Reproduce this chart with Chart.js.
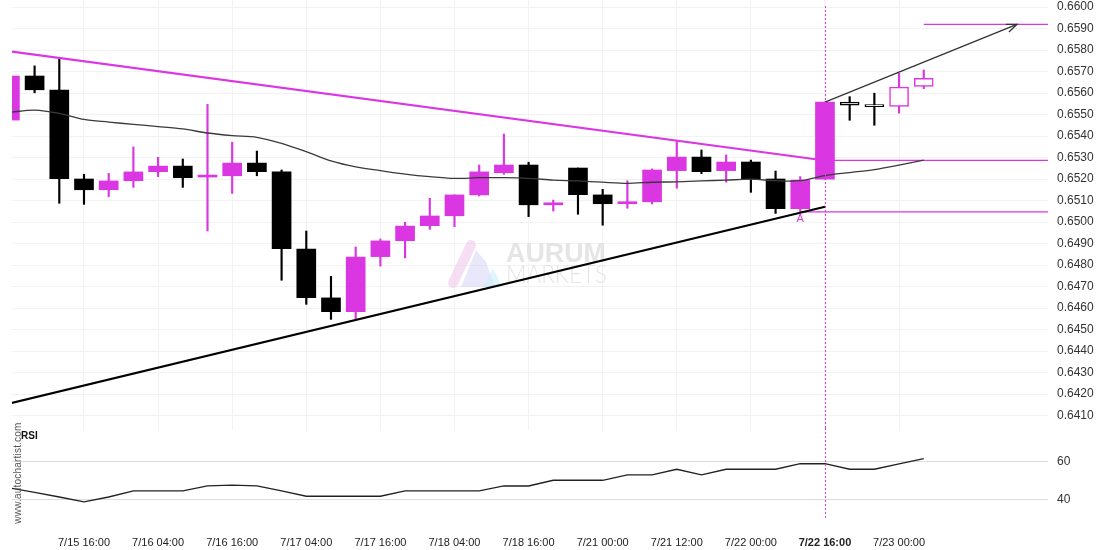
<!DOCTYPE html>
<html>
<head>
<meta charset="utf-8">
<script src="https://cdn.jsdelivr.net/npm/chart.js@4.4.0/dist/chart.umd.min.js"></script>
<style>
body { margin:0; background:#fff; width:1110px; height:550px; overflow:hidden; position:relative; font-family:"Liberation Sans", Arial, sans-serif; }
#main { position:absolute; left:0; top:0; }
#rsi { position:absolute; left:0; top:428px; }
#site { position:absolute; left:-37px; top:467px; width:110px; height:12px; line-height:12px; font-size:10px; letter-spacing:0.2px; color:#555; text-align:center; transform:rotate(-90deg); }
#rsiLabel { position:absolute; left:21px; top:430px; font-size:10px; font-weight:bold; color:#111; }
</style>
</head>
<body>
<canvas id="main" width="1110" height="430"></canvas>
<canvas id="rsi" width="1110" height="122"></canvas>
<div id="site">www.autochartist.com</div>
<div id="rsiLabel">RSI</div>
<script>
// H4 candles, index 0 = first (clipped) candle on the left
const opens  = [0.65474,0.65679,0.65614,0.65200,0.65150,0.65192,0.65234,0.65260,0.65209,0.65215,0.65274,0.65233,0.64874,0.64647,0.64583,0.64839,0.64913,0.64983,0.65029,0.65126,0.65229,0.65265,0.65080,0.65251,0.65126,0.65085,0.65094,0.65239,0.65302,0.65239,0.65279,0.65200,0.65062,0.65199,0.65558,0.65540,0.65538,0.65631]
const highs  = [0.65679,0.65726,0.65758,0.65222,0.65226,0.65349,0.65301,0.65293,0.65547,0.65371,0.65330,0.65242,0.64958,0.64747,0.64884,0.64921,0.64999,0.65110,0.65126,0.65265,0.65409,0.65278,0.65102,0.65251,0.65152,0.65192,0.65247,0.65377,0.65335,0.65312,0.65288,0.65237,0.65211,0.65558,0.65583,0.65599,0.65692,0.65707]
const lows   = [0.65474,0.65601,0.65087,0.65082,0.65118,0.65161,0.65211,0.65161,0.64958,0.65133,0.65215,0.64729,0.64617,0.64547,0.64549,0.64795,0.64833,0.64966,0.64978,0.65121,0.65222,0.65025,0.65051,0.65036,0.64985,0.65064,0.65084,0.65157,0.65225,0.65185,0.65138,0.65040,0.65047,0.65199,0.65473,0.65450,0.65506,0.65620]
const closes = [0.65679,0.65615,0.65201,0.65150,0.65191,0.65233,0.65260,0.65206,0.65215,0.65274,0.65234,0.64876,0.64648,0.64583,0.64837,0.64912,0.64981,0.65028,0.65126,0.65233,0.65265,0.65080,0.65083,0.65127,0.65085,0.65094,0.65242,0.65302,0.65234,0.65279,0.65199,0.65062,0.65195,0.65558,0.65543,0.65537,0.65627,0.65668]
const maValues = [0.65510,0.65520,0.65505,0.65477,0.65465,0.65454,0.65444,0.65433,0.65414,0.65402,0.65394,0.65366,0.65327,0.65284,0.65256,0.65239,0.65223,0.65211,0.65203,0.65206,0.65206,0.65203,0.65195,0.65191,0.65185,0.65180,0.65185,0.65187,0.65191,0.65195,0.65199,0.65192,0.65192,0.65216,0.65230,0.65244,0.65265,0.65288]
const rsiValues = [45.9,43.6,41.2,38.6,41.2,44.4,44.4,44.4,47.0,47.4,47.0,44.4,41.6,41.6,41.6,41.6,44.4,44.4,44.4,44.4,47.0,47.0,50.0,50.0,50.0,52.8,52.8,55.8,52.8,55.8,55.8,55.8,58.7,58.7,55.8,55.8,58.6,61.4]

const tickIdx = [3,6,9,12,15,18,21,24,27,30,33,36]
const tickLabels = ['7/15 16:00','7/16 04:00','7/16 16:00','7/17 04:00','7/17 16:00','7/18 04:00','7/18 16:00','7/21 00:00','7/21 12:00','7/22 00:00','7/22 16:00','7/23 00:00']
const priceTicks = [0.641,0.642,0.643,0.644,0.645,0.646,0.647,0.648,0.649,0.650,0.651,0.652,0.653,0.654,0.655,0.656,0.657,0.658,0.659,0.660]
const rsiTicks = [40,60]

// pattern lines: [index, price]
const resistance = [[0,0.65794],[33,0.65286]]
const support = [[0,0.64156],[33,0.65071]]
const forecastArrow = [[33,0.65558],[40.77,0.65919]]
const levels = [0.65919,0.65287,0.65047]
const levelStart = [37,33,32]
const signalIdx = 33
const firstForecast = 34

const xMin = 0.085
const xMax = 42.03
const magenta = '#da36e2'
const fontFamily = '"Liberation Sans", Arial, sans-serif'

const toPoints = arr => arr.map(p => ({x:p[0], y:p[1]}))
const candleColor = i => closes[i] >= opens[i] ? magenta : '#000'
const idx = opens.map((o,i) => i)
const noPad = s => { s.paddingTop = 0; s.paddingBottom = 0; s.paddingLeft = 0; s.paddingRight = 0 }

const lineSet = (data, color, width, order, tension) => ({
    type:'line', data:data, borderColor:color, borderWidth:width, pointRadius:0,
    fill:false, tension:tension || 0, order:order
})

const mainPlugin = {
    id:'mainDecor',
    beforeDatasetsDraw(chart){
        const ctx = chart.ctx
        ctx.save()
        // watermark logo
        ctx.lineCap = 'round'
        ctx.lineWidth = 10
        ctx.strokeStyle = 'rgba(238,196,236,0.55)'
        ctx.beginPath(); ctx.moveTo(453,283); ctx.lineTo(471,245); ctx.stroke()
        ctx.fillStyle = 'rgba(206,204,246,0.45)'
        ctx.beginPath(); ctx.moveTo(461,287); ctx.lineTo(476,250); ctx.lineTo(486,262); ctx.lineTo(495,287); ctx.closePath(); ctx.fill()
        ctx.fillStyle = 'rgba(200,238,250,0.6)'
        ctx.beginPath(); ctx.moveTo(484,287); ctx.lineTo(493,268); ctx.lineTo(502,287); ctx.closePath(); ctx.fill()
        ctx.fillStyle = '#e5e5e5'
        ctx.font = 'bold 27px ' + fontFamily
        ctx.fillText('AURUM', 506, 262, 100)
        ctx.font = '300 25px Lato, ' + fontFamily
        ctx.fillText('MARKETS', 506, 283, 101)
        ctx.restore()
    },
    afterDatasetsDraw(chart){
        const ctx = chart.ctx, xs = chart.scales.x, ys = chart.scales.y
        ctx.save()
        // arrow head
        const x0 = xs.getPixelForValue(forecastArrow[0][0]), y0 = ys.getPixelForValue(forecastArrow[0][1])
        const x1 = xs.getPixelForValue(forecastArrow[1][0]), y1 = ys.getPixelForValue(forecastArrow[1][1])
        const a = Math.atan2(y1 - y0, x1 - x0), L = 11, f = 0.38
        ctx.strokeStyle = '#333'
        ctx.lineWidth = 1.3
        ctx.beginPath()
        ctx.moveTo(x1 - L*Math.cos(a+f), y1 - L*Math.sin(a+f))
        ctx.lineTo(x1, y1)
        ctx.lineTo(x1 - L*Math.cos(a-f), y1 - L*Math.sin(a-f))
        ctx.stroke()
        // "A" marker
        ctx.fillStyle = magenta
        ctx.font = '11px ' + fontFamily
        ctx.textAlign = 'center'
        ctx.textBaseline = 'top'
        ctx.fillText('A', xs.getPixelForValue(signalIdx - 1), ys.getPixelForValue(levels[2]) + 1.5)
        // signal line
        const sx = Math.round(xs.getPixelForValue(signalIdx)) + 0.5
        ctx.strokeStyle = magenta
        ctx.setLineDash([2,2])
        ctx.lineWidth = 1
        ctx.beginPath(); ctx.moveTo(sx, chart.chartArea.top + 6); ctx.lineTo(sx, chart.chartArea.bottom); ctx.stroke()
        ctx.restore()
    }
}

const rsiPlugin = {
    id:'rsiDecor',
    afterDatasetsDraw(chart){
        const ctx = chart.ctx
        const sx = Math.round(chart.scales.x.getPixelForValue(signalIdx)) + 0.5
        ctx.save()
        ctx.strokeStyle = magenta
        ctx.setLineDash([2,2])
        ctx.lineWidth = 1
        ctx.beginPath(); ctx.moveTo(sx, chart.chartArea.top); ctx.lineTo(sx, chart.chartArea.bottom); ctx.stroke()
        ctx.restore()
    }
}

const createMainChart = function(){
    const ctx = document.getElementById('main').getContext('2d')
    new Chart(ctx, {
        type:'bar',
        data:{
            datasets:[
                lineSet(maValues.map((v,i) => ({x:i, y:v})), '#3a3a3a', 1.3, 1, 0.3),
                lineSet(toPoints(resistance), magenta, 2.2, 2),
                lineSet(toPoints(support), '#000', 2.2, 2),
                lineSet(toPoints(forecastArrow), '#333', 1.3, 2),
                {
                    type:'bar', order:3, grouped:false, barThickness:19, minBarLength:2,
                    data: idx.map(i => ({x:i, y:[opens[i], closes[i]]})),
                    backgroundColor: idx.map(i => i >= firstForecast ? '#fff' : candleColor(i)),
                    borderColor: idx.map(candleColor),
                    borderWidth: idx.map(i => i >= firstForecast ? 1.5 : 0),
                    borderSkipped:false
                },
                ...levels.map((v,k) => lineSet([{x:levelStart[k], y:v},{x:xMax, y:v}], magenta, 1.3, 4)),
                {
                    type:'bar', order:5, grouped:false, barThickness:1.5,
                    data: idx.map(i => ({x:i, y:[lows[i], highs[i]]})),
                    backgroundColor: idx.map(candleColor),
                    borderWidth:0
                }
            ]
        },
        options:{
            responsive:false, animation:false, devicePixelRatio:1,
            layout:{padding:{left:12, right:0, top:0, bottom:0}},
            plugins:{legend:{display:false}, tooltip:{enabled:false}},
            scales:{
                x:{
                    type:'linear', min:xMin, max:xMax, offset:false,
                    grid:{color:'#f3f3f3', offset:false, drawTicks:false},
                    border:{display:false},
                    ticks:{display:false},
                    afterBuildTicks: s => { s.ticks = tickIdx.map(v => ({value:v})) },
                    afterFit: s => { s.height = 0; noPad(s) }
                },
                y:{
                    position:'right', min:0.6403256, max:0.6603256,
                    grid:{color:'#f2f2f2', drawTicks:false},
                    border:{display:false},
                    ticks:{padding:9, color:'#333', font:{size:12, family:fontFamily}, callback: v => v.toFixed(4)},
                    afterBuildTicks: s => { s.ticks = priceTicks.map(v => ({value:v})) },
                    afterFit: s => { s.width = 62; noPad(s) }
                }
            }
        },
        plugins:[mainPlugin]
    })
}

const createRsiChart = function(){
    const ctx = document.getElementById('rsi').getContext('2d')
    new Chart(ctx, {
        type:'line',
        data:{
            datasets:[ lineSet(rsiValues.map((v,i) => ({x:i, y:v})), '#222', 1.3, 1) ]
        },
        options:{
            responsive:false, animation:false, devicePixelRatio:1,
            layout:{padding:{left:12, right:0, top:0, bottom:0}},
            plugins:{legend:{display:false}, tooltip:{enabled:false}},
            scales:{
                x:{
                    type:'linear', min:xMin, max:xMax, offset:false,
                    grid:{display:false},
                    border:{display:false},
                    ticks:{
                        padding:8, color:'#222', autoSkip:false, maxRotation:0,
                        font: c => ({size:11, family:fontFamily, weight: c.tick && c.tick.value === signalIdx ? 'bold' : 'normal'}),
                        callback: v => tickLabels[tickIdx.indexOf(v)]
                    },
                    afterBuildTicks: s => { s.ticks = tickIdx.map(v => ({value:v})) },
                    afterFit: s => { s.height = 30; noPad(s) }
                },
                y:{
                    position:'right', min:29.1, max:77.5,
                    grid:{color:'#dddddd', drawTicks:false},
                    border:{display:false},
                    ticks:{padding:9, color:'#333', font:{size:12, family:fontFamily}},
                    afterBuildTicks: s => { s.ticks = rsiTicks.map(v => ({value:v})) },
                    afterFit: s => { s.width = 62; noPad(s) }
                }
            }
        },
        plugins:[rsiPlugin]
    })
}

createMainChart()
createRsiChart()
</script>
</body>
</html>
